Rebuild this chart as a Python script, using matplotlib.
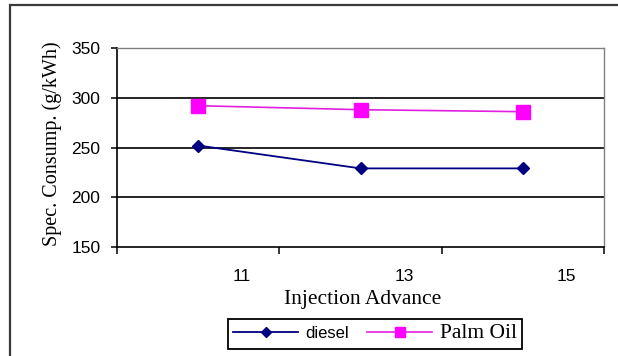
import matplotlib
matplotlib.use('Agg')
import matplotlib.pyplot as plt
from matplotlib.patches import Rectangle
from matplotlib.ticker import FixedLocator
import numpy as np

# ---------- data ----------
x_labels = ['11', '13', '15']
diesel = [252, 229, 229]
palm_oil = [292, 288, 286]
y_ticks = [150, 200, 250, 300, 350]

serif = 'Liberation Serif'
sans = 'Liberation Sans'

fig = plt.figure(figsize=(6.18, 3.56), dpi=100)
fig.patch.set_facecolor('white')

# chart-area frame (only left and top edges fall inside the image)
fig.patches.append(Rectangle((10 / 618, -0.2), 1.2, (356 - 5) / 356 + 0.2,
                             transform=fig.transFigure, fill=False,
                             edgecolor='#3a3a3a', linewidth=1.6, zorder=0))

ax = fig.add_axes([117 / 618, (356 - 247) / 356, 487 / 618, 199 / 356])

x = np.arange(len(x_labels))
ax.plot(x, palm_oil, color='#E020E0', linewidth=1.2, marker='s',
        markersize=9.5, markerfacecolor='#FF00FF', markeredgecolor='#FF00FF',
        label='Palm Oil', zorder=3)
ax.plot(x, diesel, color='#000080', linewidth=1.3, marker='D',
        markersize=6.5, markerfacecolor='#000080', markeredgecolor='#000080',
        label='diesel', zorder=4)

ax.set_xlim(-0.5, len(x_labels) - 0.5)
ax.set_ylim(150, 350)

# y axis
ax.set_yticks(y_ticks)
ax.tick_params(axis='y', direction='out', length=4, width=1.1, pad=8,
               labelsize=12.5)
for t in ax.get_yticklabels():
    t.set_family(sans)
for v in y_ticks[1:-1]:
    ax.axhline(v, color='black', linewidth=1.2, zorder=1)

# x axis: tick marks between categories, labels shifted right
label_shift = 0.27
ax.xaxis.set_major_locator(FixedLocator(x + label_shift))
ax.set_xticklabels(x_labels)
ax.xaxis.set_minor_locator(FixedLocator(np.arange(len(x_labels) + 1) - 0.5))
ax.tick_params(axis='x', which='major', length=0, pad=16, labelsize=12.5)
ax.tick_params(axis='x', which='minor', direction='out', length=5, width=1.1)
for t in ax.get_xticklabels():
    t.set_family(sans)

for side in ['left', 'bottom']:
    ax.spines[side].set_color('black')
    ax.spines[side].set_linewidth(1.2)
for side in ['top', 'right']:
    ax.spines[side].set_color('#808080')
    ax.spines[side].set_linewidth(1.0)

ax.set_xlabel('Injection Advance', family=serif, fontsize=15.5)
ax.xaxis.label.set_va('center')
ax.xaxis.set_label_coords(0.505, -0.266)
ax.set_ylabel('Spec. Consump. (g/kWh)', family=serif, fontsize=14.5)
ax.yaxis.label.set_va('center')
ax.yaxis.set_label_coords(-0.133, 0.52)

handles, labels = ax.get_legend_handles_labels()
leg = fig.legend(handles[::-1], labels[::-1], ncol=2, loc='center',
                 bbox_to_anchor=(375 / 618, (356 - 334) / 356),
                 frameon=True, fancybox=False, edgecolor='black',
                 framealpha=1, borderpad=0.3, handlelength=3.6,
                 handletextpad=0.4, columnspacing=1.0, fontsize=13,
                 markerscale=0.75)
leg.get_frame().set_linewidth(1.3)
leg.get_texts()[0].set_family(sans)
leg.get_texts()[0].set_fontsize(12)
leg.get_texts()[1].set_family(serif)
leg.get_texts()[1].set_fontsize(15.5)

fig.savefig('out.png', dpi=100)
